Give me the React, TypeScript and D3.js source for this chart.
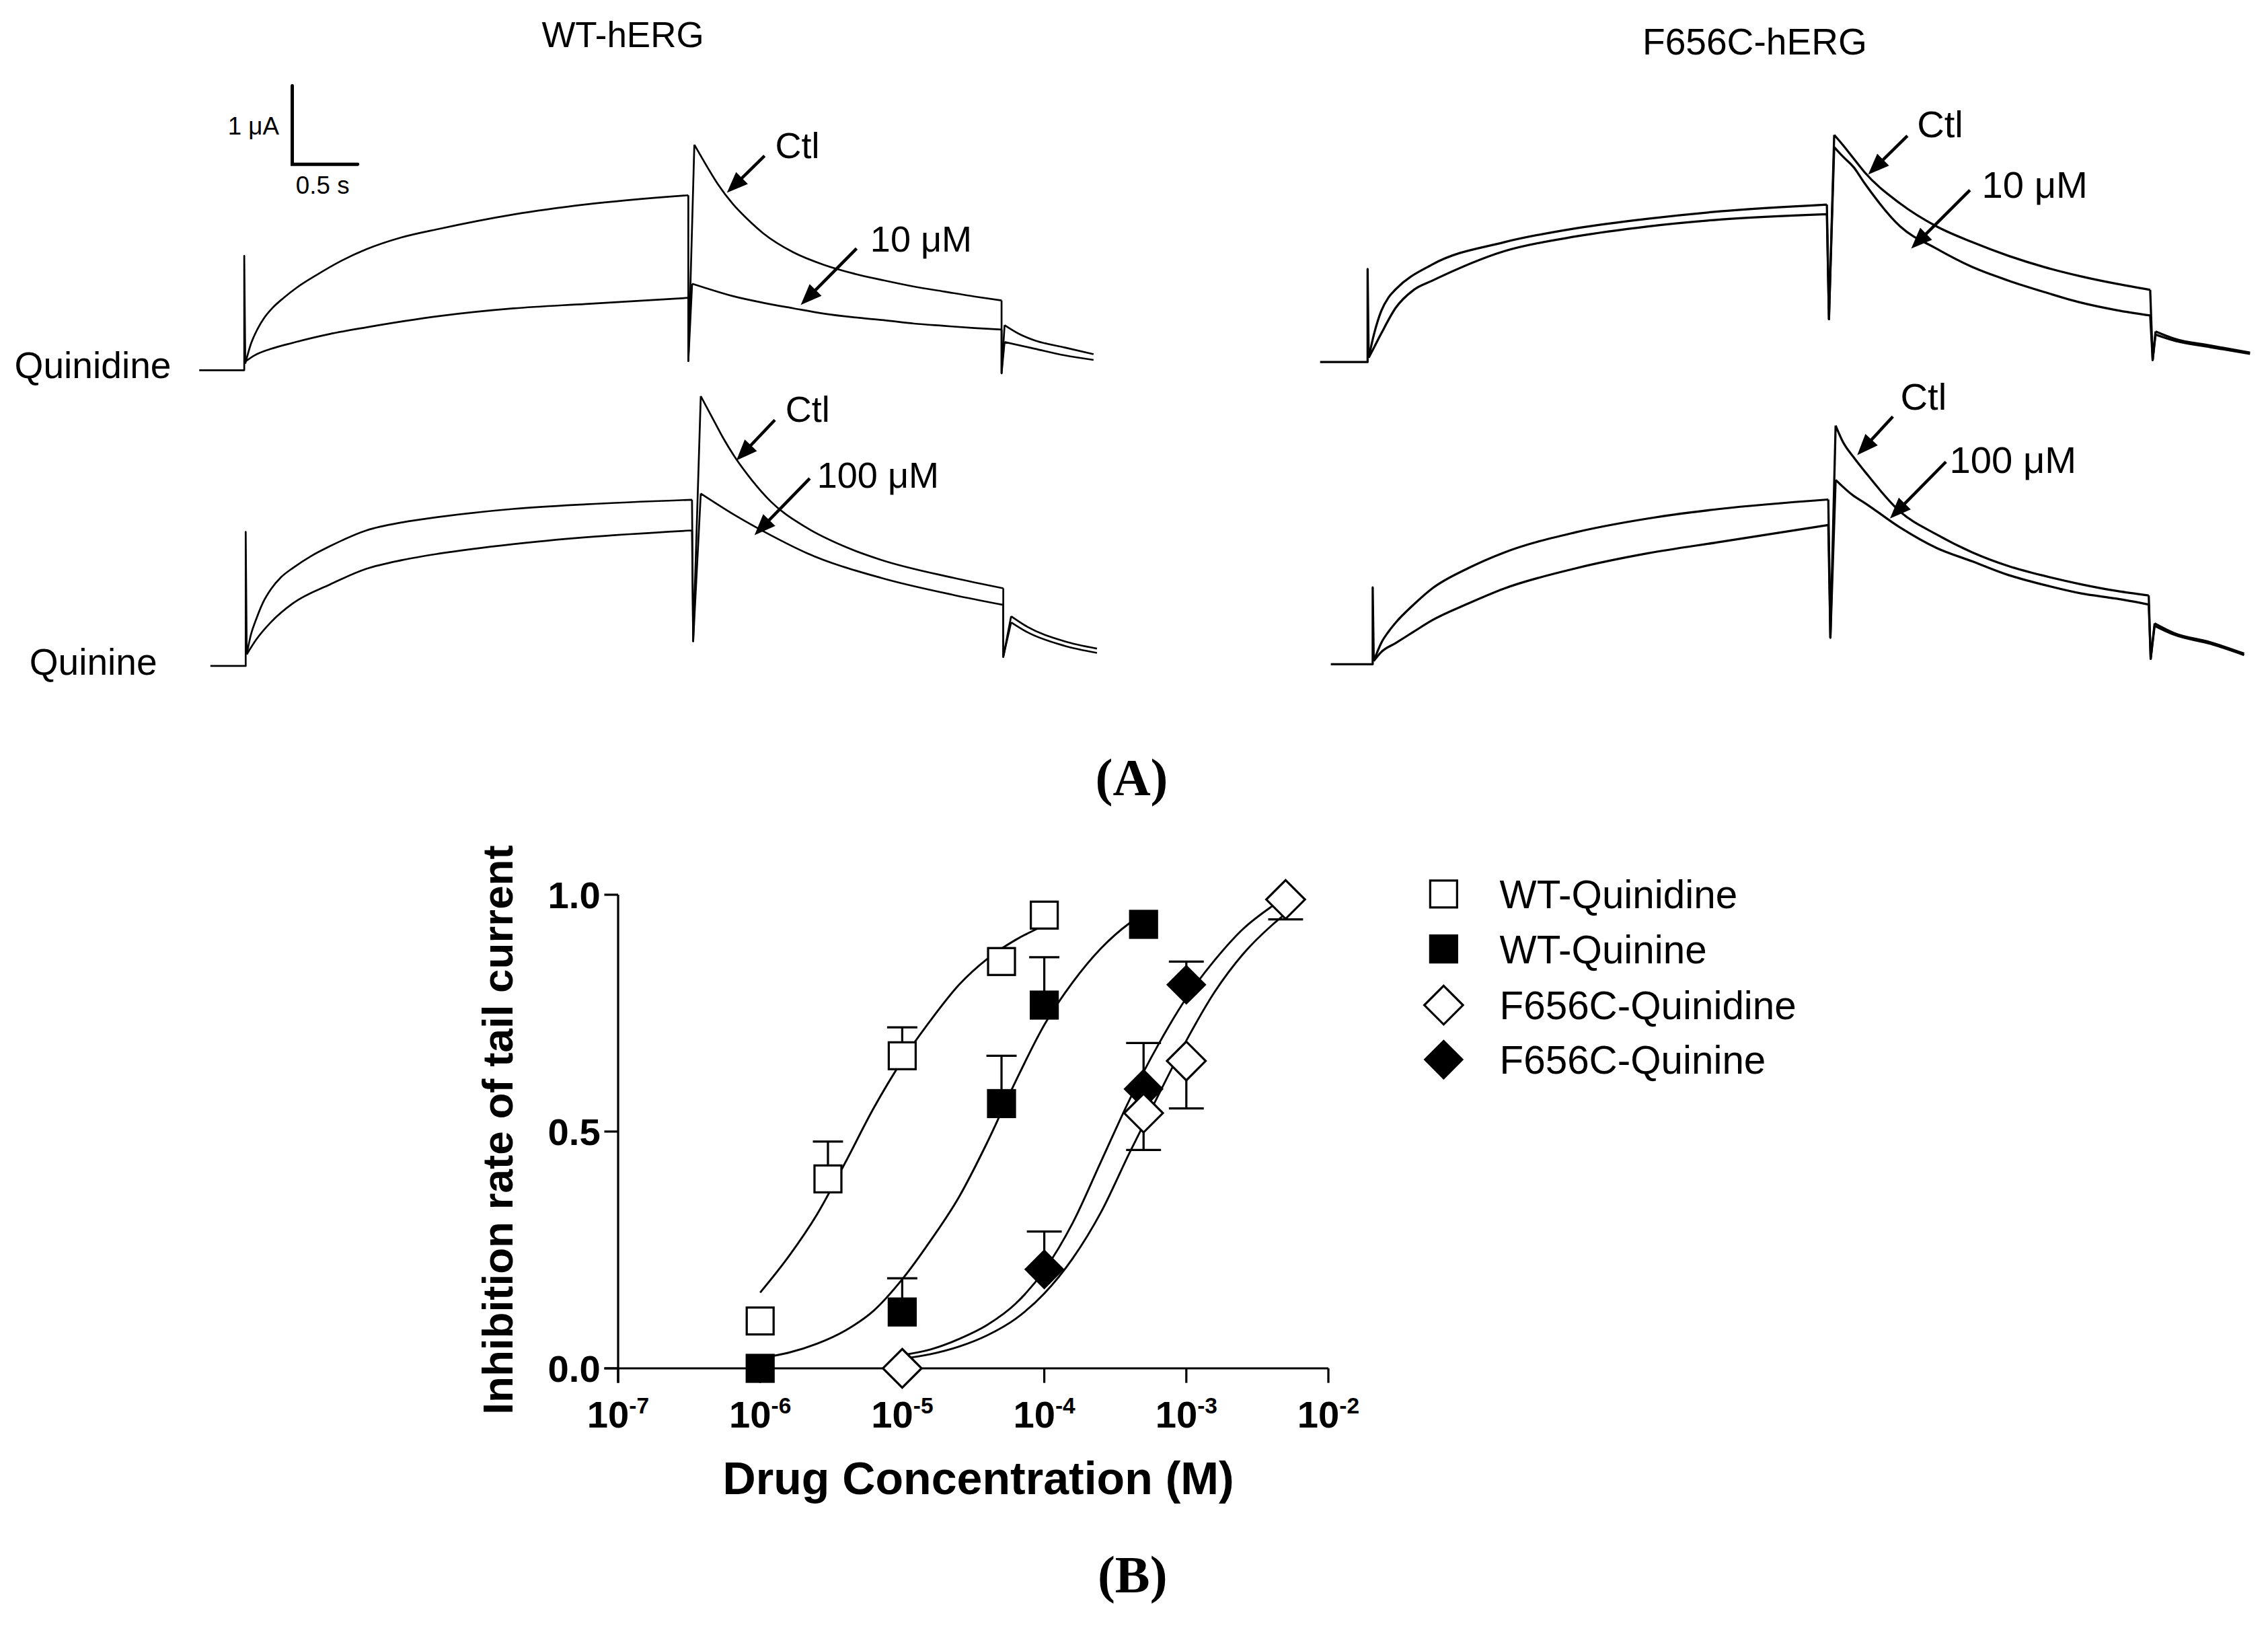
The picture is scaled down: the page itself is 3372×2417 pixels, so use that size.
import React from 'react';
import * as d3 from 'd3';

type Pt = [number, number];

// ---------- Panel A data: time (s) from step onset, current (µA) above holding ----------
// WT-hERG, Quinidine
const wtQdCtlStep: Pt[] = [[0.008,0.085],[0.05,0.33],[0.1,0.52],[0.15,0.66],[0.22,0.8],[0.3,0.92],[0.4,1.05],[0.55,1.21],[0.75,1.4],[0.933,1.54],[1.2,1.69],[1.489,1.8],[2.056,1.983],[2.611,2.111],[3.394,2.228]];
const wtQdCtlTail: Pt[] = [[3.44,2.872],[3.504,2.687],[3.619,2.372],[3.734,2.117],[3.85,1.917],[3.966,1.744],[4.196,1.502],[4.427,1.344],[4.658,1.231],[4.888,1.144],[5.119,1.065],[5.349,1.002],[5.58,0.939],[5.788,0.889]];
const wtQdCtlTail2: Pt[] = [[5.811,0.574],[5.926,0.459],[6.041,0.38],[6.272,0.289],[6.491,0.204]];
const wtQdDrugStep: Pt[] = [[0.008,0.11],[0.08,0.19],[0.2,0.27],[0.373,0.35],[0.65,0.46],[0.933,0.546],[1.489,0.689],[2.056,0.787],[2.611,0.844],[3.394,0.922]];
const wtQdDrugTail: Pt[] = [[3.423,1.102],[3.504,1.059],[3.734,0.944],[3.966,0.859],[4.196,0.789],[4.427,0.722],[4.658,0.674],[4.888,0.637],[5.119,0.594],[5.349,0.565],[5.58,0.537],[5.788,0.517]];
const wtQdDrugTail2: Pt[] = [[5.811,0.359],[6.041,0.274],[6.272,0.189],[6.491,0.131]];

// WT-hERG, Quinine
const wtQnCtlStep: Pt[] = [[0.008,0.148],[0.04,0.4],[0.082,0.604],[0.13,0.8],[0.194,0.98],[0.27,1.13],[0.362,1.25],[0.5,1.4],[0.642,1.524],[0.922,1.726],[1.2,1.83],[1.478,1.898],[2.044,2.0],[2.6,2.059],[3.411,2.117]];
const wtQnCtlTail: Pt[] = [[3.478,3.437],[3.566,3.163],[3.649,2.904],[3.733,2.674],[3.873,2.357],[4.011,2.098],[4.289,1.759],[4.573,1.524],[4.856,1.352],[5.411,1.122],[5.79,0.989]];
const wtQnCtlTail2: Pt[] = [[5.85,0.633],[5.973,0.5],[6.253,0.317],[6.506,0.222]];
const wtQnDrugStep: Pt[] = [[0.008,0.148],[0.082,0.34],[0.194,0.56],[0.362,0.8],[0.642,1.037],[0.922,1.237],[1.2,1.35],[1.478,1.431],[2.044,1.552],[2.6,1.639],[3.411,1.726]];
const wtQnDrugTail: Pt[] = [[3.478,2.196],[3.733,1.926],[4.011,1.667],[4.289,1.437],[4.856,1.122],[5.411,0.904],[5.79,0.778]];
const wtQnDrugTail2: Pt[] = [[5.85,0.556],[5.973,0.431],[6.253,0.259],[6.506,0.167]];

// F656C-hERG, Quinidine
const fQdCtlStep: Pt[] = [[0.008,0.056],[0.05,0.363],[0.104,0.65],[0.16,0.824],[0.214,0.926],[0.492,1.241],[1.042,1.526],[1.592,1.704],[2.143,1.826],[2.692,1.919],[3.51,2.006]];
const fQdCtlTail: Pt[] = [[3.566,2.893],[3.631,2.767],[3.714,2.593],[3.797,2.42],[4.07,2.019],[4.348,1.728],[4.623,1.526],[4.899,1.352],[5.174,1.209],[5.448,1.093],[5.726,0.996],[5.981,0.92]];
const fQdCtlTail2: Pt[] = [[6.022,0.39],[6.163,0.3],[6.441,0.21],[6.744,0.12]];
const fQdDrugStep: Pt[] = [[0.008,0.056],[0.05,0.189],[0.104,0.363],[0.214,0.689],[0.353,0.92],[0.492,1.035],[1.042,1.411],[1.592,1.6],[2.143,1.728],[2.692,1.815],[3.51,1.883]];
const fQdDrugTail: Pt[] = [[3.566,2.737],[3.631,2.62],[3.714,2.483],[3.797,2.281],[4.07,1.728],[4.348,1.444],[4.623,1.209],[4.899,1.037],[5.174,0.891],[5.448,0.759],[5.726,0.661],[5.981,0.593]];
const fQdDrugTail2: Pt[] = [[6.022,0.35],[6.163,0.275],[6.441,0.19],[6.744,0.105]];

// F656C-hERG, Quinine
const fQnCtlStep: Pt[] = [[0.008,0.041],[0.066,0.274],[0.121,0.415],[0.176,0.53],[0.314,0.761],[0.453,0.963],[0.728,1.222],[1.003,1.422],[1.553,1.681],[2.104,1.856],[2.653,1.978],[3.482,2.098]];
const fQnCtlTail: Pt[] = [[3.538,3.039],[3.592,2.837],[3.676,2.635],[3.758,2.461],[4.031,1.943],[4.309,1.654],[4.584,1.424],[4.86,1.25],[5.136,1.124],[5.409,1.02],[5.687,0.933],[5.931,0.876]];
const fQnCtlTail2: Pt[] = [[5.976,0.52],[6.127,0.395],[6.403,0.28],[6.66,0.135]];
const fQnDrugStep: Pt[] = [[0.008,0.041],[0.066,0.156],[0.176,0.27],[0.314,0.415],[0.453,0.559],[0.728,0.772],[1.003,0.963],[1.553,1.222],[2.104,1.413],[2.653,1.557],[3.482,1.774]];
const fQnDrugTail: Pt[] = [[3.538,2.348],[3.676,2.144],[3.758,2.057],[4.031,1.741],[4.309,1.481],[4.584,1.309],[4.86,1.135],[5.136,1.009],[5.409,0.904],[5.687,0.835],[5.931,0.761]];
const fQnDrugTail2: Pt[] = [[5.976,0.49],[6.127,0.375],[6.403,0.26],[6.66,0.117]];

// protocol events per panel: [holding start, spike peak, step end, dip at step end, tail end, dip at tail end]
const wtQdEvents = [-0.344, 1.456, 3.394, 0.117, 5.788, -0.039];
const wtQnEvents = [-0.27, 1.707, 3.42, 0.315, 5.79, 0.115];
const fQdEvents = [-0.363, 1.185, 3.526, 0.546, 6.0, 0.026];
const fQnEvents = [-0.32, 0.978, 3.498, 0.339, 5.946, 0.07];

// ---------- Panel B data ----------
const seriesNames = ['WT-Quinidine', 'WT-Quinine', 'F656C-Quinidine', 'F656C-Quinine'];
const wtQdConc = [1e-6, 3e-6, 1e-5, 5e-5, 1e-4];
const wtQdInh = [0.100, 0.400, 0.660, 0.859, 0.957];
const wtQdErr = [0, 0.079, 0.060, 0, 0];
const wtQnConc = [1e-6, 1e-5, 5e-5, 1e-4, 5e-4];
const wtQnInh = [0.0, 0.119, 0.559, 0.767, 0.9375];
const wtQnErr = [0, 0.071, 0.101, 0.101, 0];
const fQdConc = [1e-5, 5e-4, 1e-3, 5e-3];
const fQdInh = [0.0, 0.539, 0.649, 0.990];
const fQdErr = [0, 0.078, 0.100, 0.042];
const fQnConc = [1e-4, 5e-4, 1e-3];
const fQnInh = [0.209, 0.590, 0.810];
const fQnErr = [0.080, 0.097, 0.049];

// fitted curves: [log10 conc, inhibition]
const wtQdFit: Pt[] = [[-6.0,0.16],[-5.8,0.236],[-5.6,0.325],[-5.4,0.435],[-5.2,0.55],[-5.0,0.65],[-4.8,0.735],[-4.6,0.81],[-4.4,0.865],[-4.2,0.905],[-4.0,0.935]];
const wtQnFit: Pt[] = [[-6.0,0.022],[-5.8,0.033],[-5.6,0.052],[-5.4,0.08],[-5.2,0.122],[-5.0,0.188],[-4.8,0.27],[-4.6,0.362],[-4.4,0.478],[-4.2,0.607],[-4.0,0.725],[-3.8,0.815],[-3.6,0.887],[-3.4,0.94],[-3.301,0.96]];
const fQnFit: Pt[] = [[-5.0,0.028],[-4.8,0.04],[-4.6,0.062],[-4.4,0.092],[-4.2,0.137],[-4.0,0.207],[-3.8,0.307],[-3.6,0.437],[-3.4,0.567],[-3.2,0.682],[-3.0,0.782],[-2.8,0.862],[-2.6,0.928],[-2.4,0.975],[-2.301,0.995]];
const fQdFit: Pt[] = [[-5.0,0.02],[-4.8,0.03],[-4.6,0.046],[-4.4,0.07],[-4.2,0.105],[-4.0,0.158],[-3.8,0.232],[-3.6,0.33],[-3.4,0.455],[-3.2,0.575],[-3.0,0.692],[-2.8,0.795],[-2.6,0.875],[-2.4,0.935],[-2.301,0.96]];

const xTickExps = [-7, -6, -5, -4, -3, -2];
const yTicks = [0, 0.5, 1.0];
const yTickLabels = ['0.0', '0.5', '1.0'];

// ---------- layout ----------
const K = 2.1615;
const VW = 3372 / K;
const VH = 2417 / K;
const SANS = "'Liberation Sans', Arial, Helvetica, sans-serif";
const SERIF = "'Liberation Serif', 'Times New Roman', serif";
const PX_S = 90;
const PX_UA = 54;

type Trace = { step: Pt[]; tail: Pt[]; tail2: Pt[] };
type PanelDef = {
  x0: number; y0: number; ev: number[]; ctl: Trace; drug: Trace; sw: number;
  labels: { text: string; x: number; y: number; size: number }[];
  arrows: [number, number, number, number][];
};

const panels: PanelDef[] = [
  {
    x0: 168, y0: 254.6, ev: wtQdEvents, sw: 1.25,
    ctl: { step: wtQdCtlStep, tail: wtQdCtlTail, tail2: wtQdCtlTail2 },
    drug: { step: wtQdDrugStep, tail: wtQdDrugTail, tail2: wtQdDrugTail2 },
    labels: [{ text: 'Ctl', x: 533.2, y: 108.7, size: 25 }, { text: '10 μM', x: 598.6, y: 173, size: 25 }],
    arrows: [[525.9, 107.2, 500, 132.6], [589.2, 170.9, 550.8, 209.7]],
  },
  {
    x0: 169, y0: 458, ev: wtQnEvents, sw: 1.25,
    ctl: { step: wtQnCtlStep, tail: wtQnCtlTail, tail2: wtQnCtlTail2 },
    drug: { step: wtQnDrugStep, tail: wtQnDrugTail, tail2: wtQnDrugTail2 },
    labels: [{ text: 'Ctl', x: 540.3, y: 290.3, size: 25 }, { text: '100 μM', x: 562, y: 335.3, size: 25 }],
    arrows: [[533, 288.8, 506.5, 316.7], [557, 329, 519, 368]],
  },
  {
    x0: 940.7, y0: 249, ev: fQdEvents, sw: 1.5,
    ctl: { step: fQdCtlStep, tail: fQdCtlTail, tail2: fQdCtlTail2 },
    drug: { step: fQdDrugStep, tail: fQdDrugTail, tail2: fQdDrugTail2 },
    labels: [{ text: 'Ctl', x: 1318.6, y: 94.4, size: 26 }, { text: '10 μM', x: 1363.2, y: 136, size: 26 }],
    arrows: [[1312, 93.4, 1285, 120], [1355, 130.8, 1314.6, 171]],
  },
  {
    x0: 944.2, y0: 456.8, ev: fQnEvents, sw: 1.5,
    ctl: { step: fQnCtlStep, tail: fQnCtlTail, tail2: fQnCtlTail2 },
    drug: { step: fQnDrugStep, tail: fQnDrugTail, tail2: fQnDrugTail2 },
    labels: [{ text: 'Ctl', x: 1307.2, y: 281.8, size: 26 }, { text: '100 μM', x: 1341, y: 325.4, size: 26 }],
    arrows: [[1302, 286.5, 1277.5, 313], [1338.5, 317.6, 1300, 356.6]],
  },
];

function Arrow({ a }: { a: [number, number, number, number] }) {
  const [x1, y1, x2, y2] = a;
  const dx = x2 - x1, dy = y2 - y1;
  const L = Math.hypot(dx, dy);
  const ux = dx / L, uy = dy / L;
  const hl = 14.5, hw = 5.8;
  const bx = x2 - ux * hl, by = y2 - uy * hl;
  const px = -uy, py = ux;
  return (
    <g>
      <line x1={x1} y1={y1} x2={bx + ux * 2} y2={by + uy * 2} stroke="#000" strokeWidth={2.1} />
      <path d={`M${x2},${y2}L${bx + px * hw},${by + py * hw}L${bx - px * hw},${by - py * hw}Z`} fill="#000" />
    </g>
  );
}

function TracePanel({ p }: { p: PanelDef }) {
  const x = d3.scaleLinear().domain([0, 1]).range([p.x0, p.x0 + PX_S]);
  const y = d3.scaleLinear().domain([0, 1]).range([p.y0, p.y0 - PX_UA]);
  const smooth = d3.line<Pt>().x(d => x(d[0])).y(d => y(d[1])).curve(d3.curveMonotoneX);
  const lin = d3.line<Pt>().x(d => x(d[0])).y(d => y(d[1]));
  const [hold, spike, t1, dip1, t2, dip2] = p.ev;
  const last = (a: Pt[]) => a[a.length - 1];
  const tracePath = (tr: Trace) =>
    (smooth(tr.step) || '') +
    (lin([last(tr.step), [t1, dip1], tr.tail[0]]) || '') +
    (smooth(tr.tail) || '') +
    (lin([last(tr.tail), [t2, dip2], tr.tail2[0]]) || '') +
    (smooth(tr.tail2) || '');
  const holdPath = lin([[hold, 0], [0, 0], [0, spike], p.ctl.step[0]]) || '';
  return (
    <g>
      <path d={holdPath} fill="none" stroke="#000" strokeWidth={p.sw} strokeLinejoin="round" />
      <path d={tracePath(p.drug)} fill="none" stroke="#000" strokeWidth={p.sw} strokeLinejoin="round" />
      <path d={tracePath(p.ctl)} fill="none" stroke="#000" strokeWidth={p.sw} strokeLinejoin="round" />
      {p.labels.map((l, i) => (
        <text key={i} x={l.x} y={l.y} fontSize={l.size} fontFamily={SANS}>{l.text}</text>
      ))}
      {p.arrows.map((a, i) => <Arrow key={i} a={a} />)}
    </g>
  );
}

function ScaleBar() {
  const p = panels[0];
  const x = d3.scaleLinear().domain([0, 1]).range([p.x0, p.x0 + PX_S]);
  const y = d3.scaleLinear().domain([0, 1]).range([p.y0, p.y0 - PX_UA]);
  const t0 = 0.367, i0 = 2.622;
  const d = `M${x(t0)},${y(i0 + 1)}L${x(t0)},${y(i0)}L${x(t0 + 0.5)},${y(i0)}`;
  return (
    <g>
      <path d={d} fill="none" stroke="#000" strokeWidth={2.3} strokeLinecap="round" strokeLinejoin="miter" />
      <text x={192} y={92.5} fontSize={17} fontFamily={SANS} textAnchor="end">1 μA</text>
      <text x={203.5} y={133.4} fontSize={17} fontFamily={SANS}>0.5 s</text>
    </g>
  );
}

type Series = { name: string; conc: number[]; inh: number[]; err: number[]; dir: number; shape: 'square' | 'diamond'; filled: boolean; fit: Pt[] };

const seriesList: Series[] = [
  { name: seriesNames[0], conc: wtQdConc, inh: wtQdInh, err: wtQdErr, dir: 1, shape: 'square', filled: false, fit: wtQdFit },
  { name: seriesNames[1], conc: wtQnConc, inh: wtQnInh, err: wtQnErr, dir: 1, shape: 'square', filled: true, fit: wtQnFit },
  { name: seriesNames[3], conc: fQnConc, inh: fQnInh, err: fQnErr, dir: 1, shape: 'diamond', filled: true, fit: fQnFit },
  { name: seriesNames[2], conc: fQdConc, inh: fQdInh, err: fQdErr, dir: -1, shape: 'diamond', filled: false, fit: fQdFit },
];

function Marker({ cx, cy, shape, filled }: { cx: number; cy: number; shape: string; filled: boolean }) {
  const sw = 1.5;
  if (shape === 'square') {
    const s = filled ? 20 : 18.5;
    return <rect x={cx - s / 2} y={cy - s / 2} width={s} height={s} fill={filled ? '#000' : '#fff'} stroke={filled ? 'none' : '#000'} strokeWidth={sw} />;
  }
  const h = filled ? 13.8 : 13.3;
  return <path d={`M${cx},${cy - h}L${cx + h},${cy}L${cx},${cy + h}L${cx - h},${cy}Z`} fill={filled ? '#000' : '#fff'} stroke={filled ? 'none' : '#000'} strokeWidth={sw} />;
}

function DoseResponse() {
  const x = d3.scaleLog().domain([1e-7, 1e-2]).range([919 / K, 1975 / K]);
  const y = d3.scaleLinear().domain([0, 1]).range([2034 / K, 1330 / K]);
  const fitLine = d3.line<Pt>().x(d => x(Math.pow(10, d[0]))).y(d => y(d[1])).curve(d3.curveMonotoneX);
  const axW = 1.5;
  const x0 = x(1e-7), x1 = x(1e-2);
  const yb = y(0), yt = y(1);
  const legendRows = [614.8, 652.6, 691.2, 728.7];
  const legendDefs = [
    { name: seriesNames[0], shape: 'square', filled: false },
    { name: seriesNames[1], shape: 'square', filled: true },
    { name: seriesNames[2], shape: 'diamond', filled: false },
    { name: seriesNames[3], shape: 'diamond', filled: true },
  ];
  return (
    <g>
      {/* axes */}
      <line x1={x0} y1={yt} x2={x0} y2={yb + 10} stroke="#000" strokeWidth={axW} />
      <line x1={x0 - 9.5} y1={yb} x2={x1} y2={yb} stroke="#000" strokeWidth={axW} />
      {yTicks.map((v, i) => (
        <g key={i}>
          <line x1={x0 - 9.5} y1={y(v)} x2={x0} y2={y(v)} stroke="#000" strokeWidth={axW} />
          <text x={413} y={y(v) + 9.3} textAnchor="end" fontSize={26} fontWeight="bold" fontFamily={SANS}>{yTickLabels[i]}</text>
        </g>
      ))}
      {xTickExps.map(e => (
        <g key={e}>
          <line x1={x(Math.pow(10, e))} y1={yb} x2={x(Math.pow(10, e))} y2={yb + 10} stroke="#000" strokeWidth={axW} />
          <text x={x(Math.pow(10, e))} y={981.5} textAnchor="middle" fontSize={26} fontWeight="bold" fontFamily={SANS}>
            10<tspan fontSize={15.5} dy={-9.5}>{String(e)}</tspan>
          </text>
        </g>
      ))}
      <text transform={`translate(352.6,777) rotate(-90)`} textAnchor="middle" fontSize={29.5} fontWeight="bold" fontFamily={SANS}>Inhibition rate of tail current</text>
      <text x={673} y={1027.5} textAnchor="middle" fontSize={31.5} fontWeight="bold" fontFamily={SANS}>Drug Concentration (M)</text>

      {/* fitted curves */}
      {seriesList.map(s => (
        <path key={s.name} d={fitLine(s.fit) || ''} fill="none" stroke="#000" strokeWidth={1.35} />
      ))}
      {/* points and error bars */}
      {seriesList.map(s => (
        <g key={s.name}>
          {s.conc.map((c, i) => {
            const cx = x(c), cy = y(s.inh[i]);
            const ey = y(s.inh[i] + s.dir * s.err[i]);
            const cw = s.shape === 'square' ? 10.4 : 12;
            return s.err[i] > 0 ? (
              <g key={'e' + i}>
                <line x1={cx} y1={cy} x2={cx} y2={ey} stroke="#000" strokeWidth={1.5} />
                <line x1={cx - cw} y1={ey} x2={cx + cw} y2={ey} stroke="#000" strokeWidth={1.5} />
              </g>
            ) : null;
          })}
          {s.conc.map((c, i) => (
            <Marker key={'m' + i} cx={x(c)} cy={y(s.inh[i])} shape={s.shape} filled={s.filled} />
          ))}
        </g>
      ))}
      {/* legend */}
      {legendDefs.map((l, i) => (
        <g key={l.name}>
          <Marker cx={993} cy={legendRows[i]} shape={l.shape} filled={l.filled} />
          <text x={1031.5} y={legendRows[i] + 9.7} fontSize={27} fontFamily={SANS}>{l.name}</text>
        </g>
      ))}
    </g>
  );
}

export default function App() {
  return (
    <svg
      width={3372}
      height={2417}
      viewBox={`0 0 ${VW} ${VH}`}
      style={{ position: 'absolute', left: 0, top: 0, background: '#fff' }}
    >
      <rect x={0} y={0} width={VW} height={VH} fill="#fff" />
      <text x={428.4} y={32.6} textAnchor="middle" fontSize={24.5} fontFamily={SANS}>WT-hERG</text>
      <text x={1207} y={37.4} textAnchor="middle" fontSize={25.5} fontFamily={SANS}>F656C-hERG</text>
      <text x={10} y={260.2} fontSize={25.5} fontFamily={SANS}>Quinidine</text>
      <text x={20.2} y={464} fontSize={25.5} fontFamily={SANS}>Quinine</text>
      <ScaleBar />
      {panels.map((p, i) => <TracePanel key={i} p={p} />)}
      <text x={778.4} y={546.7} textAnchor="middle" fontSize={36} fontWeight="bold" fontFamily={SERIF}>(A)</text>
      <text x={779} y={1095} textAnchor="middle" fontSize={36} fontWeight="bold" fontFamily={SERIF}>(B)</text>
      <DoseResponse />
    </svg>
  );
}
